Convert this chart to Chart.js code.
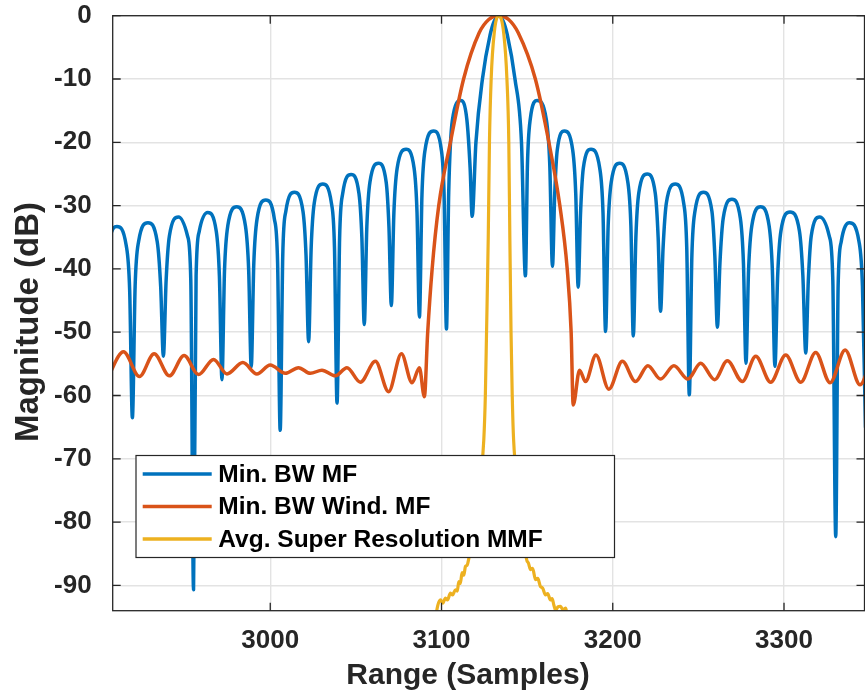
<!DOCTYPE html>
<html>
<head>
<meta charset="utf-8">
<script src="https://cdn.jsdelivr.net/npm/chart.js@4.4.1/dist/chart.umd.min.js"></script>
<style>
html,body{margin:0;padding:0;background:#ffffff;}
canvas{display:block;}
</style>
</head>
<body>
<canvas id="c" width="865" height="694"></canvas>
<script>
// ---- data ----
const seriesNames = ["Min. BW MF", "Min. BW Wind. MF", "Avg. Super Resolution MMF"];
const xTitle = "Range (Samples)";
const yTitle = "Magnitude (dB)";

const blueSamples = [
  2902.5,2903.9,2905.7,2910.5,2915.9,2917.9,2919.5,
  2921.1,2923.1,2928.6,2934.0,2936.0,2937.6,
  2939.2,2941.1,2946.4,2951.7,2953.6,2955.2,
  2956.7,2958.5,2963.5,2968.5,2970.3,2971.8,
  2973.3,2975.2,2980.4,2985.5,2987.4,2988.9,
  2990.4,2992.3,2997.4,3002.4,3004.3,3005.8,
  3007.3,3009.1,3014.1,3019.1,3020.9,3022.4,
  3023.9,3025.7,3030.7,3035.7,3037.5,3039.0,
  3040.5,3042.3,3047.2,3051.8,3053.5,3054.9,
  3056.4,3058.2,3063.2,3067.7,3069.3,3070.7,
  3072.2,3074.1,3079.3,3084.0,3085.7,3087.1,
  3088.6,3090.4,3095.4,3099.9,3101.5,3102.9,
  3104.2,3106.3,3111.3,3114.8,3116.7,3117.9,
  3120.1,3123.9,3128.4,3130.9,3133.4,3135.9,3138.4,3142.9,3146.7,3149.0,
  3150.2,3151.8,3155.9,3161.2,3163.2,3164.8,
  3166.1,3167.6,3171.8,3176.6,3178.4,3179.8,
  3181.2,3182.8,3187.3,3192.4,3194.3,3195.8,
  3197.3,3199.1,3204.0,3208.8,3210.6,3212.0,
  3213.5,3215.2,3220.1,3224.8,3226.5,3227.9,
  3229.4,3231.3,3236.5,3241.4,3243.2,3244.7,
  3246.2,3248.0,3253.0,3257.9,3259.6,3261.1,
  3262.6,3264.5,3269.6,3274.5,3276.3,3277.8,
  3279.3,3281.2,3286.3,3291.3,3293.2,3294.7,
  3296.3,3298.2,3303.5,3309.0,3311.0,3312.7,
  3314.2,3315.9,3320.8,3326.4,3328.5,3330.2,
  3331.6,3333.4,3338.2,3343.8,3345.8,3347.6,3349.0
];
const blueDb = [
  -60,-43.3,-36.3,-33.3,-36.3,-43.3,-63.5,
  -42.7,-35.7,-32.7,-35.7,-42.7,-53.8,
  -41.8,-34.8,-31.8,-34.8,-41.8,-90.7,
  -41.1,-34.1,-31.1,-34.1,-41.1,-57.5,
  -40.2,-33.2,-30.2,-33.2,-40.2,-55.5,
  -39.1,-32.1,-29.1,-32.1,-39.1,-65.5,
  -37.9,-30.9,-27.9,-30.9,-37.9,-51.5,
  -36.6,-29.6,-26.6,-29.6,-36.6,-61.2,
  -35.1,-28.1,-25.1,-28.1,-35.1,-48.8,
  -33.3,-26.3,-23.3,-26.3,-33.3,-45.8,
  -31.1,-24.1,-21.1,-24.1,-31.1,-47.6,
  -28.2,-21.2,-18.2,-21.2,-28.2,-49.5,
  -28.0,-16.6,-13.4,-16.4,-24.0,-31.7,
  -20,-10,-3,-0.8,0,-0.8,-3,-10,-20,-41.1,
  -23.4,-16.4,-13.4,-16.4,-23.4,-39.6,
  -28.2,-21.2,-18.2,-21.2,-28.2,-42.9,
  -31.1,-24.1,-21.1,-24.1,-31.1,-49.9,
  -33.3,-26.3,-23.3,-26.3,-33.3,-50.6,
  -35.0,-28.0,-25.0,-28.0,-35.0,-46.7,
  -36.6,-29.6,-26.6,-29.6,-36.6,-59.9,
  -37.9,-30.9,-27.9,-30.9,-37.9,-49.2,
  -39.0,-32.0,-29.0,-32.0,-39.0,-54.9,
  -40.2,-33.2,-30.2,-33.2,-40.2,-55.4,
  -41.0,-34.0,-31.0,-34.0,-41.0,-53.3,
  -41.8,-34.8,-31.8,-34.8,-41.8,-82.3,
  -42.7,-35.7,-32.7,-35.7,-42.7,-65.0,-75.0
];

const orangeSamples = [
  2905.0,2914.3,2923.6,2932.2,2941.1,2949.7,2958.1,2966.9,2974.7,2984.0,
  2992.2,3000.0,3008.8,3016.5,3023.4,3030.2,3038.0,3044.8,3052.6,3061.4,
  3069.1,3076.6,3082.8,3087.1,3090.0,3091.9,3094.5,3098.4,3105.2,3112.9,
  3122.0,3127.6,3133.4,3139.2,3144.8,3154.8,3162.7,3169.1,3173.4,3175.7,
  3176.9,3180.6,3184.1,3190.2,3197.7,3205.6,3213.3,3220.5,3227.9,3235.7,
  3243.9,3251.3,3259.5,3266.9,3275.7,3283.5,3292.2,3301.0,3309.8,3318.5,
  3326.9,3335.7,3344.4,3352.0
];
const orangeDb = [
  -57.2,-53.1,-57.0,-53.4,-56.9,-53.7,-56.7,-54.3,-56.6,-54.8,
  -56.6,-55.2,-56.5,-55.6,-56.5,-56.0,-56.9,-55.6,-57.9,-54.6,
  -59.4,-53.4,-58.0,-55.6,-60.2,-50.2,-40.1,-30,-20,-10,
  -2.7,-0.6,0,-0.6,-2.7,-10,-20,-30,-40,-50,
  -61.5,-56.0,-57.8,-53.6,-59.0,-54.6,-57.8,-55.3,-57.4,-55.3,
  -57.4,-54.9,-57.5,-54.5,-57.8,-53.8,-57.9,-53.6,-57.9,-53.2,
  -58.0,-52.8,-58.3,-53.0
];

const yellowSamples = [
  3096.0,3097.8,3099.4,3100.8,3102.3,3103.5,3105.2,3106.5,3108.1,3109.2,
  3110.1,3111.0,3112.0,3113.0,3114.0,3115.0,3115.9,3117.5,3120.0,3122.5,
  3124.7,3125.6,3126.3,3127.3,3128.0,3129.0,3130.8,3133.5,3136.3,3138.2,
  3139.3,3139.9,3140.6,3141.3,3142.1,3144.5,3147.0,3149.6,3150.8,3152.0,
  3153.2,3154.9,3156.2,3157.8,3159.0,3160.7,3162.0,3163.6,3164.6,3165.6,
  3166.6,3168.0,3169.5,3171.0,3172.4,3174.0
];
const yellowDb = [
  -96,-93.2,-92.3,-92.8,-92.0,-92.3,-91.2,-91.5,-90.7,-90.9,
  -89.4,-89.7,-88.0,-88.4,-87.0,-86.8,-85.8,-83.5,-79,-74,
  -67,-60,-50,-35,-20,-10,-2.7,0,-2.7,-10,
  -20,-35,-50,-60,-67,-74,-79,-85.8,-86.5,-87.5,
  -87.3,-89.1,-88.9,-90.2,-90.4,-91.5,-91.3,-92.3,-92.1,-93.1,
  -93.9,-93.4,-93.3,-93.9,-93.6,-96
];

const xMin = 2908, xMax = 3347, xStep = 100;
const yMin = -94, yMax = 0, yStep = 10;
const seriesColors = ["#0072BD", "#D95319", "#EDB120"];

// ---- build chart ----
function toXY(xs, ys) { return xs.map((v, i) => ({ x: v, y: ys[i] })); }

const FONT = "'Liberation Sans', Arial, Helvetica, sans-serif";
const AXIS_COLOR = "#262626";

function zeroPad(s) { s.paddingTop = 0; s.paddingBottom = 0; s.paddingLeft = 0; s.paddingRight = 0; }

const framePlugin = {
  id: 'frameLegendTitles',
  afterDatasetsDraw(chart) {
    const { ctx, chartArea: a, scales: { x, y } } = chart;
    ctx.save();
    // axes box
    ctx.strokeStyle = AXIS_COLOR;
    ctx.lineWidth = 1.3;
    ctx.strokeRect(a.left, a.top, a.right - a.left, a.bottom - a.top);
    // inward ticks on all four sides
    ctx.beginPath();
    x.ticks.forEach(t => {
      const px = x.getPixelForValue(t.value);
      ctx.moveTo(px, a.bottom); ctx.lineTo(px, a.bottom - 8);
      ctx.moveTo(px, a.top); ctx.lineTo(px, a.top + 8);
    });
    y.ticks.forEach(t => {
      const py = y.getPixelForValue(t.value);
      ctx.moveTo(a.left, py); ctx.lineTo(a.left + 8, py);
      ctx.moveTo(a.right, py); ctx.lineTo(a.right - 8, py);
    });
    ctx.stroke();

    // legend box
    const lg = { left: 136, top: 455.5, right: 614.5, bottom: 557.5 };
    ctx.fillStyle = '#ffffff';
    ctx.fillRect(lg.left, lg.top, lg.right - lg.left, lg.bottom - lg.top);
    ctx.strokeStyle = AXIS_COLOR;
    ctx.lineWidth = 1.2;
    ctx.strokeRect(lg.left, lg.top, lg.right - lg.left, lg.bottom - lg.top);
    const rowY = [474, 506.5, 539];
    ctx.font = "bold 24.5px " + FONT;
    ctx.textBaseline = 'middle';
    ctx.textAlign = 'left';
    chart.data.datasets.forEach((ds, i) => {
      ctx.strokeStyle = ds.borderColor;
      ctx.lineWidth = 3.5;
      ctx.lineCap = 'butt';
      ctx.beginPath();
      ctx.moveTo(142.7, rowY[i]);
      ctx.lineTo(211.7, rowY[i]);
      ctx.stroke();
      ctx.fillStyle = '#000000';
      ctx.fillText(ds.label, 218.3, rowY[i] + 1);
    });

    // axis titles
    ctx.fillStyle = AXIS_COLOR;
    ctx.textAlign = 'center';
    ctx.textBaseline = 'middle';
    ctx.font = "bold 30px " + FONT;
    ctx.fillText(xTitle, 468, 676);
    ctx.save();
    ctx.font = "bold 33px " + FONT;
    ctx.translate(29, 322);
    ctx.rotate(-Math.PI / 2);
    ctx.fillText(yTitle, 0, 0);
    ctx.restore();
    ctx.restore();
  }
};

const tickFont = { family: FONT, size: 26, weight: 'bold' };

new Chart(document.getElementById('c').getContext('2d'), {
  type: 'line',
  data: {
    datasets: [
      { label: seriesNames[0], data: toXY(blueSamples, blueDb), borderColor: seriesColors[0], borderWidth: 3.5, order: 3 },
      { label: seriesNames[1], data: toXY(orangeSamples, orangeDb), borderColor: seriesColors[1], borderWidth: 3.5, order: 2 },
      { label: seriesNames[2], data: toXY(yellowSamples, yellowDb), borderColor: seriesColors[2], borderWidth: 3.2, order: 1 }
    ]
  },
  options: {
    responsive: false,
    animation: false,
    events: [],
    elements: {
      point: { radius: 0 },
      line: { cubicInterpolationMode: 'monotone', borderJoinStyle: 'round', borderCapStyle: 'round', fill: false }
    },
    layout: { padding: { left: 0, right: 0.5, top: 15.7, bottom: 0 } },
    plugins: { legend: { display: false }, tooltip: { enabled: false }, title: { display: false } },
    scales: {
      x: {
        type: 'linear', min: xMin, max: xMax,
        afterFit: s => { s.height = 83.3; zeroPad(s); },
        ticks: { stepSize: xStep, includeBounds: false, font: tickFont, color: AXIS_COLOR, padding: 15, maxRotation: 0, callback: v => String(v) },
        grid: { color: '#e3e3e3', lineWidth: 1.4, drawTicks: false },
        border: { display: false }
      },
      y: {
        type: 'linear', min: yMin, max: yMax,
        afterFit: s => { s.width = 112.7; zeroPad(s); },
        ticks: { stepSize: yStep, includeBounds: false, font: tickFont, color: AXIS_COLOR, padding: 21, callback: v => String(v) },
        grid: { color: '#e3e3e3', lineWidth: 1.4, drawTicks: false },
        border: { display: false }
      }
    }
  },
  plugins: [framePlugin]
});
</script>
</body>
</html>
